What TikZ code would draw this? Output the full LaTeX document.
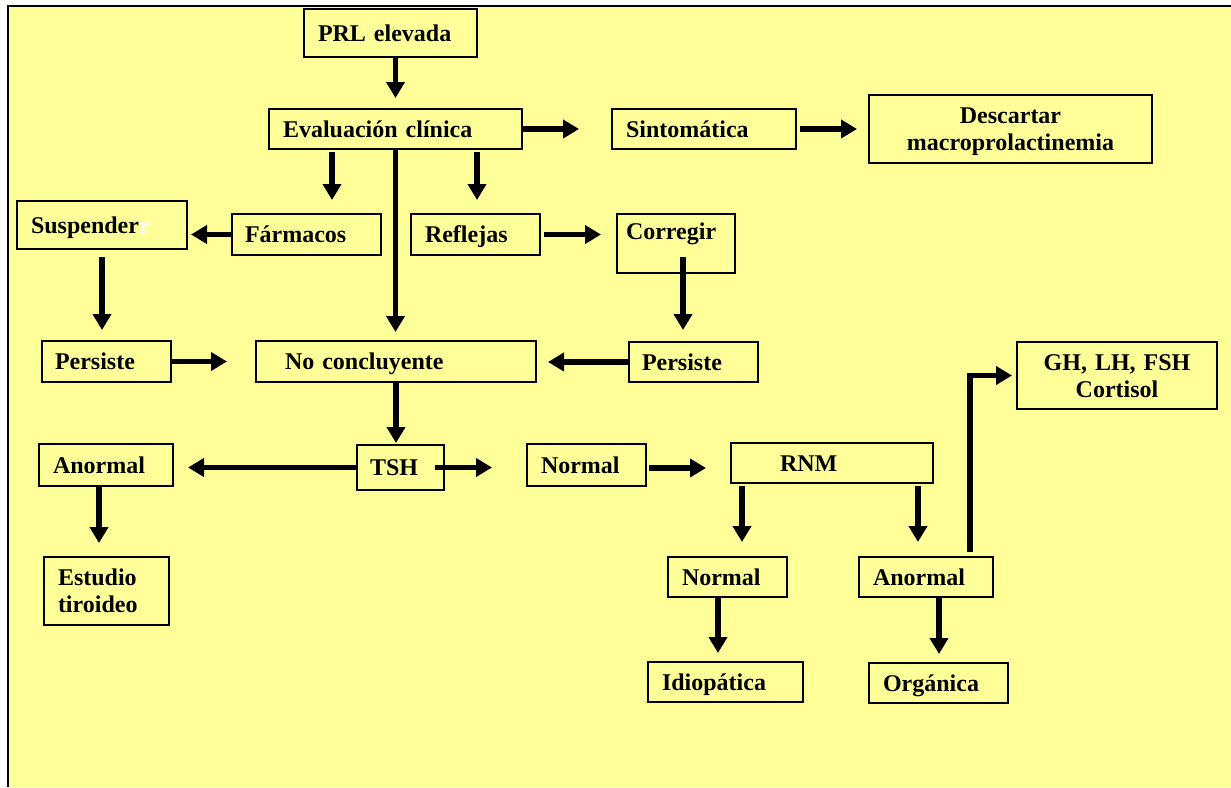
\documentclass[tikz,border=0pt]{standalone}
\usepackage{fontspec}
\setmainfont{Liberation Serif}
\usetikzlibrary{arrows.meta,calc}
\definecolor{bgyel}{HTML}{FFFF99}
\tikzset{
 box/.style={draw, line width=2pt, anchor=north west, outer sep=0pt, inner ysep=0pt,
   align=left, text height=16pt, text depth=0pt,
   font=\bfseries\fontsize{24}{27}\selectfont},
 arr/.style={line width=5.5pt, -{Triangle[length=16pt,width=18pt]}},
}
\newcommand\flbox[8][]{%
  \pgfmathsetmacro\flw{#5-#3}%
  \pgfmathsetmacro\flh{#6-#4}%
  \pgfmathsetmacro\fltw{#5-#3-2*#7}%
  \node[box,minimum width=\flw pt,minimum height=\flh pt,text width=\fltw pt,inner xsep=#7 pt,#1] (#2) at (#3,#4) {#8};}
\begin{document}
\begin{tikzpicture}[x=1pt,y=-1pt]
\useasboundingbox (0,0) rectangle (1231,787);
\fill[white] (0,0) rectangle (1231,787);
\fill[bgyel] (8,6) rectangle (1231,787);
\draw[line width=2.5pt] (8,787) -- (8,6) -- (1231,6);

\flbox{prl}{304}{9}{477}{57}{14}{PRL elevada}
\flbox{eval}{269}{109}{522}{149}{14}{Evaluación clínica}
\flbox{sint}{612}{109}{796}{149}{14}{Sintomática}
\flbox[align=center,text depth=27pt]{desc}{869}{95}{1152}{163}{10}{Descartar\\macroprolactinemia}
\flbox{susp}{17}{201}{187}{249}{14}{Suspender\textcolor{white}{r}}
\flbox{farm}{232}{214}{381}{255}{13}{Fármacos}
\flbox{refl}{411}{214}{540}{255}{14}{Reflejas}
\flbox[text depth=25pt]{corr}{617}{214}{735}{273}{9}{Corregir}
\flbox{pers1}{42}{341}{171}{382}{13}{Persiste}
\flbox{nocon}{256}{341}{536}{382}{29}{No concluyente}
\flbox{pers2}{629}{342}{758}{382}{13}{Persiste}
\flbox{tsh}{357}{445}{444}{490}{13}{TSH}
\flbox{anor1}{39}{444}{173}{486}{14}{Anormal}
\flbox{norm1}{527}{444}{646}{486}{14}{Normal}
\flbox{rnm}{731}{443}{933}{483}{49}{RNM}
\flbox[text depth=27pt]{estu}{44}{557}{169}{625}{14}{Estudio\\tiroideo}
\flbox{norm2}{668}{557}{787}{597}{14}{Normal}
\flbox{anor2}{859}{557}{993}{597}{14}{Anormal}
\flbox{idio}{648}{662}{803}{702}{14}{Idiopática}
\flbox{orga}{869}{663}{1008}{703}{14}{Orgánica}
\flbox[align=center,text depth=26pt]{gh}{1017}{342}{1217}{409}{10}{GH, LH, FSH\\Cortisol}

\draw[arr,shorten >=11pt] (prl.south -| eval.north) -- (eval.north);
\draw[arr,shorten >=33pt] (eval.east) -- (sint.west);
\draw[arr,shorten <=4pt,shorten >=12pt] (sint.east) -- (desc.west);
\coordinate (e1) at ([xshift=63pt]eval.south west);
\draw[arr,shorten <=3pt,shorten >=14pt] (e1) -- (e1 |- farm.north);
\coordinate (e2) at ([xshift=208pt]eval.south west);
\draw[arr,shorten <=3pt,shorten >=14pt] (e2) -- (e2 |- refl.north);
\draw[arr,shorten >=9pt] (eval.south) -- (eval.south |- nocon.north);
\draw[arr,shorten >=4pt] (farm.west) -- (farm.west -| susp.east);
\draw[arr,shorten <=4pt,shorten >=16pt] (refl.east) -- (refl.east -| corr.west);
\draw[arr,shorten <=8pt,shorten >=11pt] (susp.south) -- (susp.south |- pers1.north);
\coordinate (c1) at ([xshift=66pt,yshift=16pt]corr.south west);
\draw[arr,shorten >=12pt] (c1) -- (c1 |- pers2.north);
\draw[arr,shorten >=29pt] (pers1.east) -- (pers1.east -| nocon.west);
\draw[arr,shorten >=12pt] (pers2.west) -- (pers2.west -| nocon.east);
\draw[arr,shorten >=2pt] (nocon.south) -- (nocon.south |- tsh.north);
\draw[arr,shorten >=15pt] (tsh.west) -- (tsh.west -| anor1.east);
\coordinate (t1) at ([xshift=-9pt]tsh.east);
\draw[arr,shorten >=35pt] (t1) -- (t1 -| norm1.west);
\coordinate (n1) at ([yshift=-3pt]norm1.east);
\draw[arr,shorten <=3pt,shorten >=25pt] (n1) -- (n1 -| rnm.west);
\coordinate (r1) at ([xshift=11pt]rnm.south west);
\draw[arr,shorten <=3pt,shorten >=15pt] (r1) -- (r1 |- norm2.north);
\coordinate (r2) at ([xshift=187pt]rnm.south west);
\draw[arr,shorten <=3pt,shorten >=15pt] (r2) -- (r2 |- anor2.north);
\coordinate (a1) at ([xshift=60pt]anor1.south west);
\draw[arr,shorten <=1pt,shorten >=14pt] (a1) -- (a1 |- estu.north);
\coordinate (m2) at ([xshift=50pt]norm2.south west);
\draw[arr,shorten >=9pt] (m2) -- (m2 |- idio.north);
\coordinate (a2) at ([xshift=80pt]anor2.south west);
\draw[arr,shorten >=9pt] (a2) -- (a2 |- orga.north);
\coordinate (a3) at ([xshift=111pt,yshift=5pt]anor2.north west);
\draw[arr,shorten >=5pt] (a3) |- (gh.west);
\end{tikzpicture}
\end{document}
